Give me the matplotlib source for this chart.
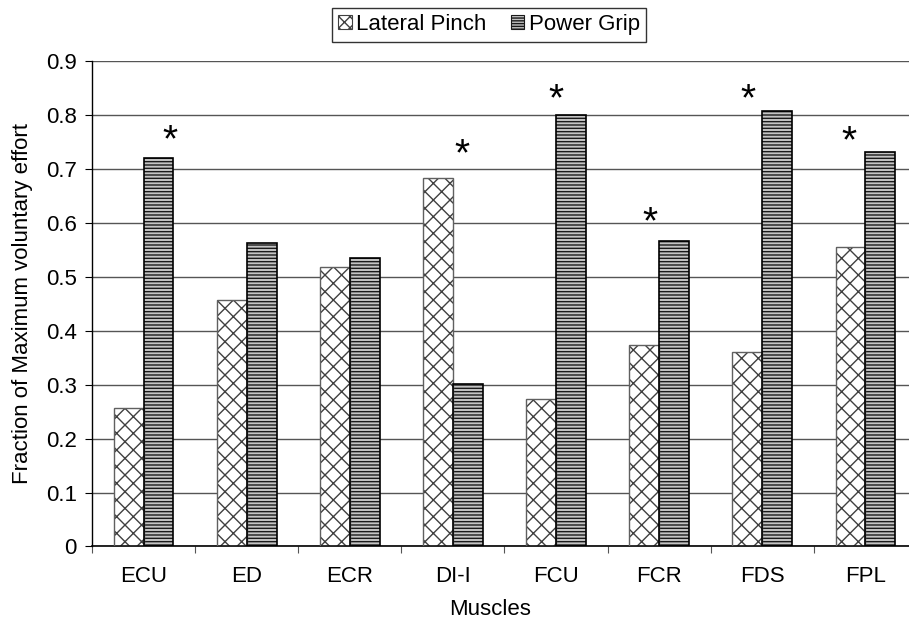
import numpy as np
import matplotlib
matplotlib.use("Agg")
import matplotlib.pyplot as plt
from matplotlib.patches import Patch

plt.rcParams['font.family'] = ['Liberation Sans', 'DejaVu Sans']

muscles = ["ECU", "ED", "ECR", "DI-I", "FCU", "FCR", "FDS", "FPL"]
lateral_pinch = [0.257, 0.457, 0.519, 0.684, 0.273, 0.373, 0.360, 0.555]
power_grip = [0.721, 0.563, 0.536, 0.301, 0.800, 0.567, 0.807, 0.731]

# significance stars: (category index, x offset from centre, height of star centre)
star_idx = [0, 3, 4, 5, 6, 7]
star_dx = [0.257, 0.084, 0.0, -0.09, -0.136, -0.16]
star_y = [0.767, 0.74, 0.843, 0.615, 0.843, 0.765]

FS = 16

fig = plt.figure(figsize=(9.09, 6.28), dpi=100)
ax = fig.add_axes([0.1012, 0.1298, 0.9076, 0.7726])

x = np.arange(len(muscles))
w = 0.29

# lateral pinch: white with dark cross hatch
ax.bar(x - w / 2, lateral_pinch, w, facecolor="white", edgecolor="#404040",
       hatch="xx", linewidth=0, zorder=2)
ax.bar(x - w / 2, lateral_pinch, w, fill=False, edgecolor="#606060",
       linewidth=1.0, zorder=3)
# power grip: grey with dense horizontal lines
ax.bar(x + w / 2, power_grip, w, facecolor="#c4c4c4", edgecolor="#1a1a1a",
       hatch="-----", linewidth=0, zorder=2)
ax.bar(x + w / 2, power_grip, w, fill=False, edgecolor="black",
       linewidth=1.2, zorder=3)

# star glyph centre sits about half an em above the baseline
for i, dx, yy in zip(star_idx, star_dx, star_y):
    ax.annotate("*", xy=(x[i] + dx, yy), xytext=(0, -13),
                textcoords="offset points", ha="center", va="baseline",
                fontsize=28, zorder=4)

ax.set_xlim(-0.5, len(muscles) - 0.5)
ax.set_ylim(0, 0.9)
ax.set_yticks(np.arange(0, 0.91, 0.1))
ax.set_yticklabels(["0"] + [f"{v:.1f}" for v in np.arange(0.1, 0.91, 0.1)])
ax.yaxis.grid(True, color="#555555", linewidth=1.0, zorder=0)
ax.set_axisbelow(True)

ax.set_xticks(np.arange(-0.5, len(muscles), 1.0))
ax.set_xticklabels([])
ax.set_xticks(x, minor=True)
ax.set_xticklabels(muscles, minor=True)
ax.tick_params(axis="x", which="minor", length=0, pad=14, labelsize=FS)
ax.tick_params(axis="x", which="major", length=5, direction="out", color="#555555")
ax.tick_params(axis="y", length=5, direction="out", labelsize=FS, pad=6)

for s in ["top", "right"]:
    ax.spines[s].set_visible(False)
ax.spines["left"].set_linewidth(1.0)
ax.spines["bottom"].set_linewidth(1.2)

ax.set_xlabel("Muscles", fontsize=FS)
ax.xaxis.set_label_coords(0.483, -0.108)
ax.set_ylabel("Fraction of Maximum voluntary effort", fontsize=FS)
ax.yaxis.set_label_coords(-0.071, 0.5)

handles = [
    Patch(facecolor="white", edgecolor="#404040", hatch="xxx", linewidth=0.8),
    Patch(facecolor="#c4c4c4", edgecolor="#1a1a1a", hatch="------", linewidth=0.8),
]
leg = fig.legend(handles, ["Lateral Pinch", "Power Grip"], ncol=2,
                 loc="upper center", bbox_to_anchor=(0.538, 0.988),
                 fontsize=FS, frameon=True, fancybox=False,
                 handlelength=0.6, handleheight=0.6, handletextpad=0.2,
                 columnspacing=1.1, borderpad=0.3, borderaxespad=0)
leg.get_frame().set_edgecolor("black")
leg.get_frame().set_linewidth(1.0)

fig.savefig("out.png", dpi=100)
